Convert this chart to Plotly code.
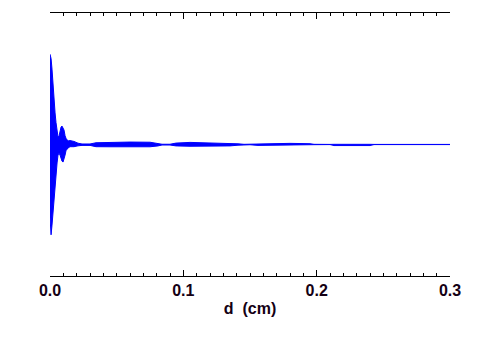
import plotly.graph_objects as go

# distance (cm) and signal envelope
d_cm = [0.0000, 0.0008, 0.0015, 0.0023, 0.0030, 0.0038, 0.0045, 0.0053, 0.0060,
        0.0068, 0.0075, 0.0083, 0.0090, 0.0098, 0.0105, 0.0113, 0.0120, 0.0135,
        0.0150, 0.0180, 0.0210, 0.0240, 0.0300, 0.0345, 0.0450, 0.0600, 0.0750,
        0.0810, 0.0840, 0.0900, 0.0945, 0.1050, 0.1200, 0.1350, 0.1410, 0.1455,
        0.1500, 0.1560, 0.1800, 0.1950, 0.1980, 0.2100, 0.2130, 0.2400, 0.2430,
        0.3000]
upper = [1.03, 0.98, 0.86, 0.68, 0.45, 0.36, 0.25, 0.13, 0.086,
         0.10, 0.17, 0.20, 0.21, 0.19, 0.165, 0.10, 0.07, 0.04,
         0.045, 0.035, 0.015, 0.006, 0.006, 0.02, 0.026, 0.028, 0.026,
         0.016, 0.003, 0.003, 0.016, 0.024, 0.02, 0.016, 0.008, 0.002,
         0.003, 0.012, 0.013, 0.009, 0.002, 0.001, 0.002, 0.002, 0.001,
         0.001]
lower = [-0.83, -1.03, -0.92, -0.75, -0.63, -0.44, -0.33, -0.21, -0.12,
         -0.10, -0.12, -0.16, -0.19, -0.20, -0.17, -0.12, -0.07, -0.04,
         -0.025, -0.025, -0.015, -0.01, -0.01, -0.025, -0.026, -0.026, -0.026,
         -0.016, -0.006, -0.006, -0.016, -0.02, -0.02, -0.016, -0.008, -0.003,
         -0.003, -0.01, -0.01, -0.009, -0.002, -0.001, -0.012, -0.012, -0.001,
         -0.001]

x_ticks = [0.0, 0.1, 0.2, 0.3]
x_tick_labels = ["0.0", "0.1", "0.2", "0.3"]

BLUE = "#0000FF"
fig = go.Figure()
fig.add_trace(go.Scatter(x=d_cm, y=upper, mode="lines",
                         line=dict(color=BLUE, width=1), showlegend=False,
                         hoverinfo="skip"))
fig.add_trace(go.Scatter(x=d_cm, y=lower, mode="lines", fill="tonexty",
                         fillcolor=BLUE, line=dict(color=BLUE, width=1),
                         showlegend=False, hoverinfo="skip"))
# empty trace so the top (mirror) axis is drawn
fig.add_trace(go.Scatter(x=[], y=[], xaxis="x2", showlegend=False,
                         hoverinfo="skip"))

txt = "#140014"
common = dict(
    range=[0, 0.3], showgrid=False, zeroline=False,
    showline=True, linecolor="black", linewidth=1,
    ticks="inside", ticklen=6, tickwidth=1, tickcolor="black",
    tickvals=x_ticks,
    minor=dict(dtick=0.01, ticks="inside", ticklen=3, tickwidth=1,
               tickcolor="black", showgrid=False),
)
fig.update_layout(
    width=500, height=350,
    margin=dict(l=42, r=58, t=5, b=82),
    paper_bgcolor="white", plot_bgcolor="white",
    font=dict(family="Liberation Sans, Arial, sans-serif", size=16, color=txt),
    xaxis=dict(
        **common,
        ticktext=x_tick_labels,
        tickfont=dict(size=16, color=txt, weight="bold"),
        title=dict(text="d\u00a0 (cm)", font=dict(size=16, color=txt, weight="bold"),
                   standoff=4),
    ),
    xaxis2=dict(**common, overlaying="x", side="top", matches="x",
                showticklabels=False),
    yaxis=dict(range=[-1.5, 1.5], visible=False, showgrid=False, zeroline=False),
)

fig.write_html("out.html")
